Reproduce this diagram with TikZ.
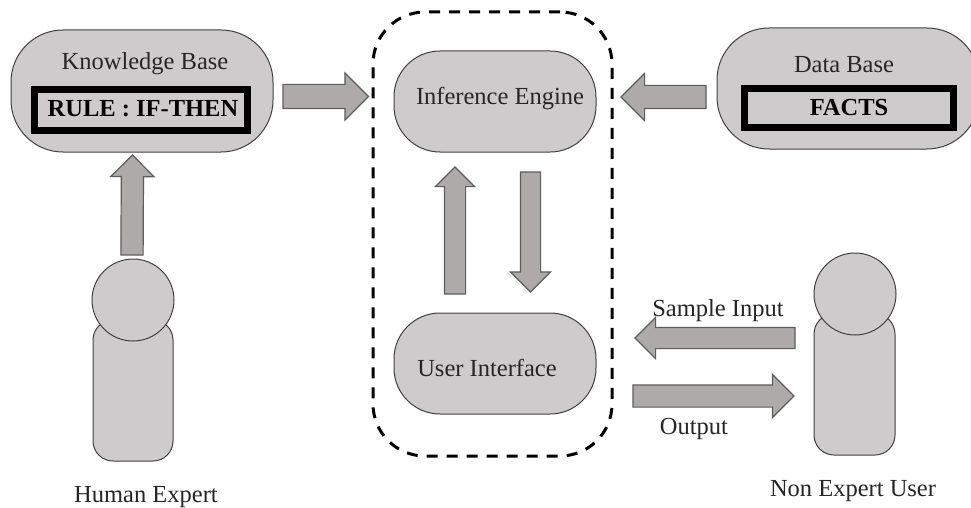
\documentclass[tikz,border=0pt]{standalone}
\usepackage{fontspec}
\setmainfont{Liberation Serif}
\usetikzlibrary{shapes.arrows,calc}
\definecolor{shapefill}{HTML}{CDCBCC}
\definecolor{arrowfill}{HTML}{AEAAAA}
\definecolor{edgecol}{HTML}{404040}
\tikzset{
  x=1pt,y=-1pt,
  pill/.style={draw=edgecol,line width=1pt,fill=shapefill,inner sep=0pt,outer sep=0pt},
  headshape/.style={pill,circle,minimum size=82pt},
  rulebox/.style={draw=black,line width=7pt,fill=shapefill,inner sep=0pt,outer sep=0pt},
  caption/.style={inner sep=0pt,font=\fontsize{24.5}{28}\selectfont,text=black!85},
  boldcaption/.style={inner sep=0pt,font=\fontsize{24.5}{28}\selectfont\bfseries,text=black},
  fatarrow/.style={single arrow,draw=edgecol!85,line width=1.2pt,fill=arrowfill,inner xsep=0pt,outer sep=0pt,
    single arrow head indent=0pt},
}
\newcommand{\fatlink}[5]{% name, from, to, shaft half width, head extension
  \path let \p1=($#3-#2$),\n1={veclen(\x1,\y1)} in #2 -- #3
    node[pos=0,anchor=tail,sloped,allow upside down,fatarrow,inner ysep=#4pt,minimum height=\n1,
         single arrow head extend=#5pt] (#1) {};
}
\begin{document}
\begin{tikzpicture}
\useasboundingbox (0,0) rectangle (971,508);
\clip (0,0) rectangle (971,508);
\fill[white] (0,0) rectangle (971,508);

% dashed frame
\node[draw=black,line width=3pt,dash pattern=on 11pt off 9pt,rounded corners=52pt,
      minimum width=239pt,minimum height=444pt,inner sep=0pt] (frame) at (492.5,234) {};

% knowledge base
\node[pill,rounded corners=52pt,minimum width=262pt,minimum height=122pt] (kb) at (142,91) {};
\node[caption] (kbt) at (145,64) {Knowledge Base};
\node[rulebox,minimum width=213pt,minimum height=41pt] (rule) at (141,110) {};
\node[boldcaption] (rulet) at (143,109) {RULE : IF-THEN};

% data base
\node[pill,rounded corners=52pt,minimum width=262pt,minimum height=121pt] (db) at (848,88.5) {};
\node[caption] (dbt) at (844,65) {Data Base};
\node[rulebox,minimum width=209pt,minimum height=39pt] (facts) at (849,108) {};
\node[boldcaption] (factst) at (849,108) {FACTS};

% engine and interface
\node[pill,rounded corners=46pt,minimum width=202pt,minimum height=101pt] (engine) at (495,101.5) {};
\node[caption] (enginet) at (500,99) {Inference Engine};
\node[pill,rounded corners=46pt,minimum width=202pt,minimum height=101pt] (ui) at (495,363.5) {};
\node[caption] (uit) at (487,368) {User Interface};

% human expert
\node[pill,rounded corners=20pt,minimum width=80pt,minimum height=141pt] (hbody) at (133,390.5) {};
\node[headshape] (hhead) at (133,300) {};
\node[caption] (ht) at (146,497) {Human Expert};

% non expert user
\node[pill,rounded corners=20pt,minimum width=81pt,minimum height=141pt] (ubody) at (854.5,384.5) {};
\node[headshape] (uhead) at (855,294) {};
\node[caption] (ut) at (853,491) {Non Expert User};

% block arrows
\fatlink{a1}{([shift={(10pt,-5.5pt)}]kb.east)}{([shift={(-3pt,137.5pt)}]frame.west)}{11.5}{11.5}
\fatlink{a2}{([shift={(-11pt,-8.5pt)}]db.west)}{([shift={(25pt,4.5pt)}]engine.east)}{11}{12}
\fatlink{a3}{([shift={(-1pt,4pt)}]hhead.north)}{([shift={(-9.5pt,-3pt)}]kb.south)}{10.5}{10.5}
\fatlink{a4}{([shift={(-40pt,19pt)}]ui.north)}{([shift={(-40pt,-15pt)}]engine.south)}{10}{9}
\fatlink{a5}{([shift={(35.5pt,-20pt)}]engine.south)}{([shift={(35.5pt,21pt)}]ui.north)}{9.5}{10}
\fatlink{a6}{([shift={(-19pt,46.5pt)}]ubody.west)}{([shift={(39pt,25.5pt)}]ui.east)}{10}{10}
\fatlink{a7}{([shift={(37pt,-32.5pt)}]ui.east)}{([shift={(-20pt,-11.5pt)}]ubody.west)}{10.5}{10.5}
\node[caption] (sit) at (718,311) {Sample Input};
\node[caption] (ot) at (694,429) {Output};
\end{tikzpicture}
\end{document}
